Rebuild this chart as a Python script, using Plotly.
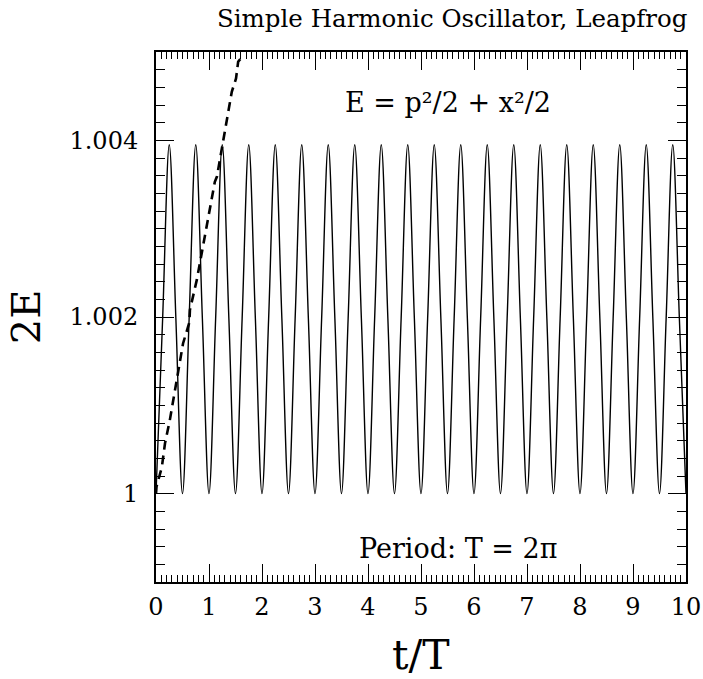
import plotly.graph_objects as go

# Leapfrog energy (solid): samples (troughs, mid-levels, peaks)
t_leap = [
    0.000, 0.125, 0.250, 0.375, 0.500, 0.625, 0.750, 0.875,
    1.000, 1.125, 1.250, 1.375, 1.500, 1.625, 1.750, 1.875,
    2.000, 2.125, 2.250, 2.375, 2.500, 2.625, 2.750, 2.875,
    3.000, 3.125, 3.250, 3.375, 3.500, 3.625, 3.750, 3.875,
    4.000, 4.125, 4.250, 4.375, 4.500, 4.625, 4.750, 4.875,
    5.000, 5.125, 5.250, 5.375, 5.500, 5.625, 5.750, 5.875,
    6.000, 6.125, 6.250, 6.375, 6.500, 6.625, 6.750, 6.875,
    7.000, 7.125, 7.250, 7.375, 7.500, 7.625, 7.750, 7.875,
    8.000, 8.125, 8.250, 8.375, 8.500, 8.625, 8.750, 8.875,
    9.000, 9.125, 9.250, 9.375, 9.500, 9.625, 9.750, 9.875,
    10.000,
]
e_leap = [
    1.00000, 1.00198, 1.00395, 1.00198, 1.00000, 1.00198, 1.00395, 1.00198,
    1.00000, 1.00198, 1.00395, 1.00198, 1.00000, 1.00198, 1.00395, 1.00198,
    1.00000, 1.00198, 1.00395, 1.00198, 1.00000, 1.00198, 1.00395, 1.00198,
    1.00000, 1.00198, 1.00395, 1.00198, 1.00000, 1.00198, 1.00395, 1.00198,
    1.00000, 1.00198, 1.00395, 1.00198, 1.00000, 1.00198, 1.00395, 1.00198,
    1.00000, 1.00198, 1.00395, 1.00198, 1.00000, 1.00198, 1.00395, 1.00198,
    1.00000, 1.00198, 1.00395, 1.00198, 1.00000, 1.00198, 1.00395, 1.00198,
    1.00000, 1.00198, 1.00395, 1.00198, 1.00000, 1.00198, 1.00395, 1.00198,
    1.00000, 1.00198, 1.00395, 1.00198, 1.00000, 1.00198, 1.00395, 1.00198,
    1.00000, 1.00198, 1.00395, 1.00198, 1.00000, 1.00198, 1.00395, 1.00198,
    1.00000,
]

# Dashed curve, read point by point
t_dash = [0.00, 0.01, 0.11, 0.17, 0.26, 0.36, 0.42, 0.51, 0.63, 0.64, 0.77,
          0.86, 0.93, 1.02, 1.11, 1.15, 1.21, 1.28, 1.37, 1.43, 1.51, 1.55, 1.59]
e_dash = [1.00000, 1.00008, 1.00030, 1.00057, 1.00083, 1.00117, 1.00140,
          1.00170, 1.00194, 1.00208, 1.00242, 1.00272, 1.00293, 1.00321,
          1.00353, 1.00359, 1.00379, 1.00402, 1.00432, 1.00455, 1.00470,
          1.00489, 1.00492]

x_range = [0, 10]
y_range = [0.999, 1.005]

title_text = "Simple Harmonic Oscillator, Leapfrog"
energy_text = "E = p\u00b2/2 + x\u00b2/2"
period_text = "Period: T = 2\u03c0"
x_title = "t/T"
y_title = "2E"

FONT = "DejaVu Serif"
W, H = 703, 679

fig = go.Figure()
fig.add_trace(go.Scatter(x=t_leap, y=e_leap, mode="lines",
                         line=dict(color="black", width=1.4, shape="spline", smoothing=1.0),
                         showlegend=False, hoverinfo="skip"))
fig.add_trace(go.Scatter(x=t_dash, y=e_dash, mode="lines",
                         line=dict(color="black", width=2.6, dash="9px,6px"),
                         showlegend=False, hoverinfo="skip"))

axis_common = dict(showgrid=False, zeroline=False, showline=True, linecolor="black",
                   linewidth=2, mirror="allticks", ticks="inside", tickcolor="black",
                   tickwidth=1.3, ticklen=18, automargin=False,
                   tickfont=dict(family=FONT, size=24, color="black"))

fig.update_xaxes(range=x_range, tick0=0, dtick=1,
                 minor=dict(dtick=0.1, ticks="inside", ticklen=7, tickcolor="black", tickwidth=1),
                 ticklabelstandoff=2, **axis_common)
fig.update_yaxes(range=y_range, tick0=1, dtick=0.002,
                 minor=dict(dtick=0.0002, ticks="inside", ticklen=9, tickcolor="black", tickwidth=1),
                 ticklabelstandoff=11, **axis_common)

fig.add_annotation(text=title_text, xref="paper", yref="paper", x=1.005, y=1.064,
                   xanchor="right", yanchor="middle", showarrow=False,
                   font=dict(family=FONT, size=24.5, color="black"))
fig.add_annotation(text=energy_text, xref="paper", yref="paper", x=0.55, y=0.905,
                   xanchor="center", yanchor="middle", showarrow=False,
                   font=dict(family=FONT, size=27, color="black"))
fig.add_annotation(text=period_text, xref="paper", yref="paper", x=0.569, y=0.063,
                   xanchor="center", yanchor="middle", showarrow=False,
                   font=dict(family=FONT, size=27, color="black"))
fig.add_annotation(text=x_title, xref="paper", yref="paper", x=0.5, y=-0.137,
                   xanchor="center", yanchor="middle", showarrow=False,
                   font=dict(family=FONT, size=41, color="black"))
fig.add_annotation(text=y_title, xref="paper", yref="paper", x=-0.245, y=0.5,
                   xanchor="center", yanchor="middle", showarrow=False, textangle=-90,
                   font=dict(family=FONT, size=40, color="black"))

fig.update_layout(width=W, height=H, margin=dict(l=156, r=17, t=52, b=97, autoexpand=False),
                  paper_bgcolor="white", plot_bgcolor="white")

fig.write_html(
    "out.html",
    config={"displayModeBar": False, "responsive": False},
    post_script=("document.body.style.margin='0';"
                 "document.body.style.overflow='hidden';"
                 "Plotly.relayout(document.getElementById('{plot_id}'), {width: %d, height: %d});" % (W, H)),
)
